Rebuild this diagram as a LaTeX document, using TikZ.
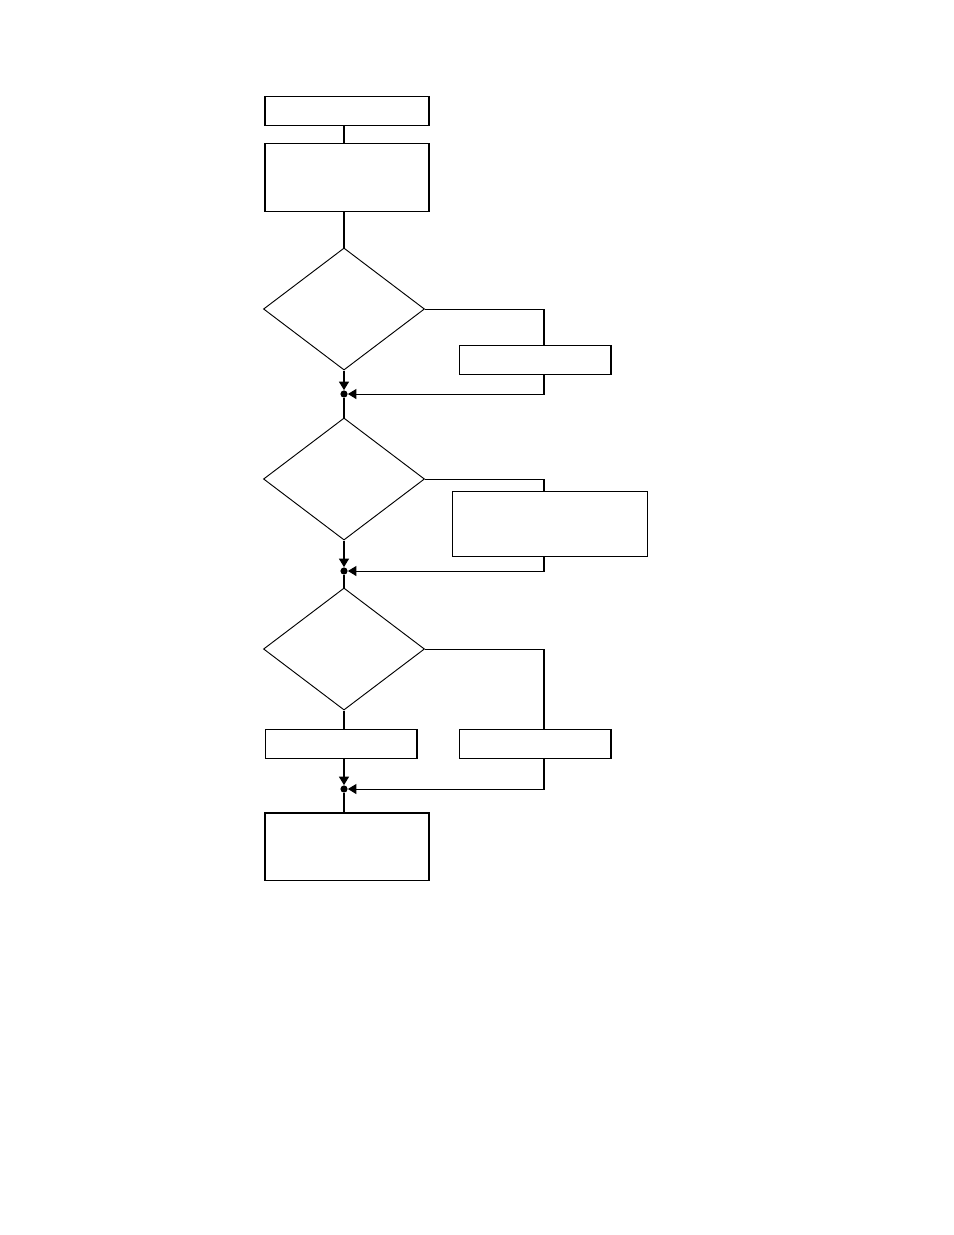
\documentclass[tikz,border=0pt]{standalone}
\usetikzlibrary{shapes.geometric}
\usetikzlibrary{arrows.meta}
\tikzset{box node/.style={rectangle,draw,line width=0.65pt,inner sep=0pt},
  test node/.style={diamond,draw,line width=0.6pt,inner sep=0pt,minimum width=103.3pt,minimum height=78.3pt},
  join node/.style={circle,fill,inner sep=0pt,minimum size=4.6pt},}

\begin{document}
\begin{tikzpicture}[x=0.6415pt,y=-0.6415pt,>={Triangle[length=5.5pt,width=6.5pt]}]
    \useasboundingbox (0,0) rectangle (954,1235);
    \node[box node,minimum width=105.2pt,minimum height=19.2pt] (1) at (347,111) {};
    \node[box node,minimum width=105.2pt,minimum height=43pt] (2) at (347,177.5) {};
    \node[test node] (3) at (344,309) {};
    \node[box node,minimum width=97.5pt,minimum height=19.2pt] (4) at (535,360) {};
    \node[join node] (j1) at (344,394) {};
    \node[test node] (5) at (344,479) {};
    \node[box node,minimum width=124.5pt,minimum height=41.7pt] (6) at (550,523.5) {};
    \node[join node] (j2) at (344,571) {};
    \node[test node] (7) at (344,649) {};
    \node[box node,minimum width=97.5pt,minimum height=18.6pt] (8) at (341,743.5) {};
    \node[box node,minimum width=97.5pt,minimum height=18.6pt] (9) at (535,743.5) {};
    \node[join node] (j3) at (344,789) {};
    \node[box node,minimum width=105.2pt,minimum height=43pt] (10) at (347,846.5) {};
    \coordinate (r1) at (544,309);
    \coordinate (r2) at (544,479);
    \coordinate (r3) at (544,649);

    \path[line width=0.65pt]
    (1.south -| 3.north) edge (2.north -| 3.north)
    (2.south -| 3.north) edge (3.north)
    (3.south) edge[->] (j1.north)
    (j1) edge (5.north)
    (5.south) edge[->] (j2.north)
    (j2) edge (7.north)
    (7.south) edge (7.south |- 8.north)
    (7.south |- 8.south) edge[->] (j3.north)
    (j3) edge (10.north -| j3);
    \draw[line width=0.65pt] (3.east) -- (r1) -- (r1 |- 4.north);
    \draw[line width=0.65pt,->] (r1 |- 4.south) -- (r1 |- j1) -- (j1.east);
    \draw[line width=0.65pt] (5.east) -- (r2) -- (r2 |- 6.north);
    \draw[line width=0.65pt,->] (r2 |- 6.south) -- (r2 |- j2) -- (j2.east);
    \draw[line width=0.65pt] (7.east) -- (r3) -- (r3 |- 9.north);
    \draw[line width=0.65pt,->] (r3 |- 9.south) -- (r3 |- j3) -- (j3.east);
  \end{tikzpicture}
\end{document}
